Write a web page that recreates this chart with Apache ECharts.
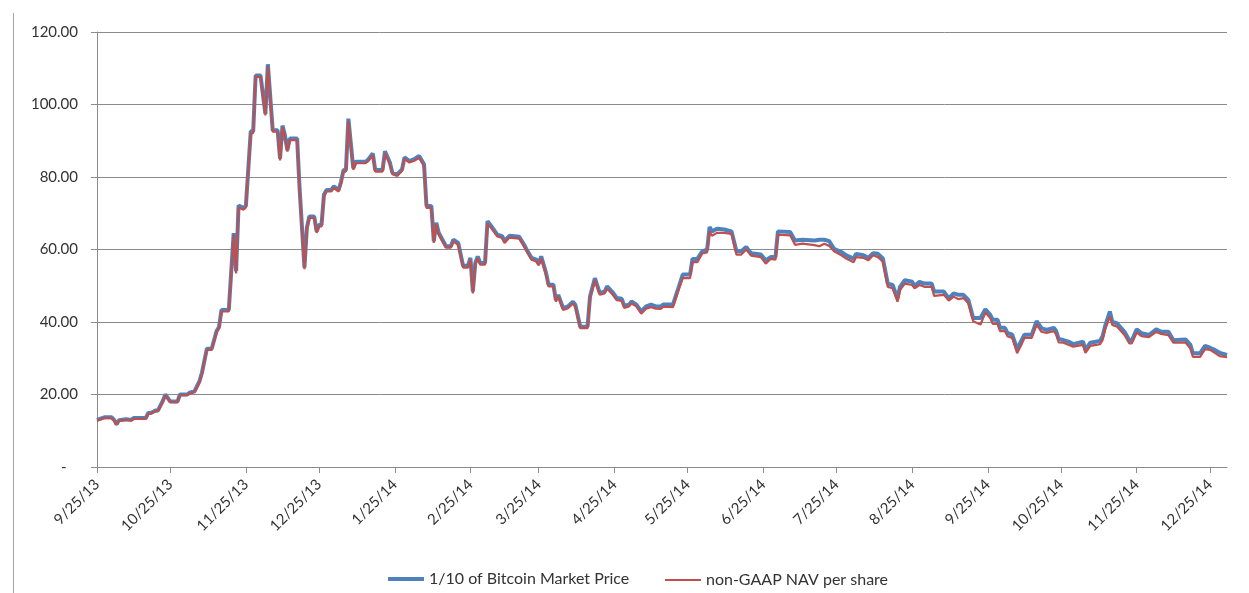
<!DOCTYPE html>
<html>
<head>
<meta charset="utf-8">
<script src="https://cdn.jsdelivr.net/npm/echarts@6/dist/echarts.min.js"></script>
<style>
  html, body { margin: 0; padding: 0; background: #ffffff; }
  #chart { width: 1249px; height: 593px; }
</style>
</head>
<body>
<div id="chart"></div>
<script>
// Month tick labels shown on the x axis
const tickLabels = ['9/25/13','10/25/13','11/25/13','12/25/13','1/25/14','2/25/14','3/25/14','4/25/14','5/25/14','6/25/14','7/25/14','8/25/14','9/25/14','10/25/14','11/25/14','12/25/14'];

// Dates at which the line changes direction
const pointDates = [
  '9/25/13','9/28/13','10/1/13','10/2/13','10/3/13','10/4/13','10/7/13','10/9/13','10/10/13','10/15/13','10/16/13','10/17/13','10/19/13','10/20/13','10/22/13','10/23/13','10/25/13','10/28/13','10/29/13',
  '11/1/13','11/2/13','11/4/13','11/6/13','11/7/13','11/9/13','11/11/13','11/13/13','11/14/13','11/15/13','11/18/13','11/20/13','11/21/13','11/22/13','11/24/13','11/25/13','11/27/13','11/28/13','11/29/13',
  '12/1/13','12/3/13','12/4/13','12/6/13','12/8/13','12/9/13','12/10/13','12/11/13','12/12/13','12/13/13','12/16/13','12/17/13','12/19/13','12/20/13','12/21/13','12/23/13','12/24/13','12/25/13','12/26/13','12/27/13','12/28/13','12/30/13','12/31/13',
  '1/2/14','1/3/14','1/4/14','1/5/14','1/6/14','1/8/14','1/9/14','1/13/14','1/14/14','1/16/14','1/17/14','1/20/14','1/21/14','1/23/14','1/24/14','1/26/14','1/28/14','1/29/14','1/31/14',
  '2/2/14','2/4/14','2/6/14','2/7/14','2/9/14','2/10/14','2/11/14','2/12/14','2/15/14','2/17/14','2/18/14','2/20/14','2/22/14','2/24/14','2/25/14','2/26/14','2/27/14','2/28/14',
  '3/1/14','3/3/14','3/4/14','3/6/14','3/8/14','3/10/14','3/11/14','3/13/14','3/17/14','3/19/14','3/20/14','3/22/14','3/24/14','3/25/14','3/26/14','3/28/14','3/29/14','3/31/14',
  '4/1/14','4/2/14','4/4/14','4/6/14','4/8/14','4/9/14','4/11/14','4/14/14','4/15/14','4/17/14','4/19/14','4/21/14','4/22/14','4/24/14','4/25/14','4/26/14','4/28/14','4/29/14',
  '5/1/14','5/2/14','5/4/14','5/6/14','5/8/14','5/10/14','5/12/14','5/14/14','5/15/14','5/19/14','5/21/14','5/23/14','5/26/14','5/27/14','5/29/14','5/31/14',
  '6/2/14','6/3/14','6/4/14','6/6/14','6/9/14','6/12/14','6/14/14','6/16/14','6/18/14','6/20/14','6/24/14','6/26/14','6/28/14','6/30/14',
  '7/1/14','7/6/14','7/8/14','7/11/14','7/16/14','7/18/14','7/20/14','7/22/14','7/24/14','7/27/14','7/29/14',
  '8/1/14','8/2/14','8/5/14','8/7/14','8/9/14','8/11/14','8/13/14','8/15/14','8/17/14','8/19/14','8/20/14','8/22/14','8/25/14','8/26/14','8/28/14','8/30/14',
  '9/2/14','9/3/14','9/7/14','9/9/14','9/11/14','9/13/14','9/15/14','9/17/14','9/19/14','9/22/14','9/24/14','9/26/14','9/27/14','9/29/14','9/30/14',
  '10/2/14','10/3/14','10/5/14','10/7/14','10/9/14','10/10/14','10/13/14','10/15/14','10/17/14','10/19/14','10/22/14','10/23/14','10/24/14','10/26/14','10/28/14','10/30/14',
  '11/3/14','11/4/14','11/6/14','11/10/14','11/11/14','11/12/14','11/14/14','11/15/14','11/17/14','11/20/14','11/22/14','11/23/14','11/25/14','11/27/14','11/30/14',
  '12/3/14','12/5/14','12/8/14','12/10/14','12/15/14','12/17/14','12/18/14','12/21/14','12/23/14','12/25/14','12/27/14','12/29/14','1/1/15'
];

// 1/10 of Bitcoin Market Price
const bitcoinTenth = [
  13.0,13.7,13.7,13.0,11.8,12.9,13.2,13.0,13.5,13.5,14.9,14.9,15.6,15.6,18.3,20.0,18.1,18.1,20.0,
  20.0,20.5,20.9,23.7,26.0,32.6,32.6,37.5,38.6,43.3,43.3,64.5,54.0,72.1,71.5,72.0,92.6,92.6,108.0,
  108.0,97.4,111.1,92.9,92.9,85.1,94.2,91.5,87.4,90.6,90.6,76.9,55.0,66.0,69.1,69.1,65.0,66.8,66.8,75.1,76.4,76.4,77.4,
  76.4,78.7,81.9,81.9,96.1,82.4,84.2,84.2,84.7,86.5,81.9,81.9,87.1,84.0,81.2,80.7,82.1,85.4,84.4,
  84.9,85.8,83.5,72.0,72.0,62.3,67.4,64.6,60.9,60.9,62.7,61.8,55.5,55.5,57.7,48.4,56.3,58.1,
  56.3,56.3,67.8,66.0,64.1,63.7,62.3,63.8,63.5,61.3,60.0,57.7,57.2,56.1,58.1,53.5,50.3,50.3,
  46.1,47.5,43.8,44.3,45.6,44.7,38.7,38.7,47.0,52.1,48.0,48.4,49.8,48.4,47.5,46.6,46.4,44.5,
  44.8,45.7,44.8,42.9,44.3,44.8,44.3,44.3,44.8,44.8,48.9,53.1,53.1,57.4,57.4,59.5,
  60.0,66.2,65.0,65.7,65.5,65.0,59.5,59.5,60.7,59.0,58.6,57.0,57.9,57.9,
  65.0,64.8,62.5,62.7,62.5,62.7,62.7,62.3,60.2,59.3,58.4,
  57.5,58.8,58.4,57.7,59.0,58.8,57.5,50.6,50.2,46.5,49.7,51.5,51.1,49.9,51.1,50.6,
  50.6,48.4,48.4,46.5,47.9,47.5,47.5,46.1,41.1,41.1,43.5,42.0,40.6,40.6,38.4,
  38.4,37.0,36.5,32.5,35.2,36.5,36.5,40.2,38.3,37.8,38.4,37.5,35.4,35.0,34.6,33.9,
  34.6,32.3,34.3,34.8,36.0,38.7,42.9,40.1,39.6,37.3,34.9,34.9,38.0,36.9,36.4,
  38.0,37.3,37.3,35.0,35.2,33.7,31.4,31.4,33.4,32.9,32.3,31.5,30.9
];

// non-GAAP NAV per share
const navPerShare = [
  12.8,13.5,13.5,12.8,11.6,12.7,13.0,12.8,13.3,13.3,14.7,14.7,15.4,15.4,18.0,19.7,17.9,17.9,19.8,
  19.8,20.3,20.7,23.4,25.7,32.3,32.3,37.1,38.2,42.9,42.9,64.0,53.4,71.6,71.0,71.6,92.1,92.1,107.6,
  107.6,97.0,110.6,92.5,92.5,84.6,93.8,91.0,87.0,90.2,90.2,76.4,54.6,65.6,68.7,68.7,64.6,66.4,66.4,74.7,76.0,76.0,77.0,
  76.0,78.3,81.5,81.5,95.5,82.0,83.8,83.8,84.3,86.0,81.5,81.5,86.6,83.5,80.8,80.3,81.7,85.0,84.0,
  84.5,85.3,83.0,71.5,71.5,61.8,66.9,64.1,60.5,60.5,62.2,61.3,55.0,55.0,57.2,47.9,55.8,57.6,
  55.8,55.8,67.2,65.5,63.6,63.2,61.8,63.3,63.0,60.8,59.5,57.2,56.7,55.6,57.6,53.0,49.8,49.8,
  45.6,47.0,43.3,43.8,45.1,44.2,38.3,38.3,46.5,51.5,47.5,47.9,49.2,47.8,46.9,46.0,45.8,43.9,
  44.3,45.1,44.3,42.3,43.7,44.1,43.7,43.6,44.2,44.1,48.4,52.1,52.1,56.5,56.5,58.9,
  59.2,65.0,63.8,64.6,64.6,64.3,58.6,58.6,60.0,58.3,57.9,56.1,57.4,57.2,
  64.1,63.9,61.3,61.6,61.2,60.9,61.6,61.0,59.5,58.4,57.5,
  56.5,57.9,57.7,57.0,58.4,57.9,56.6,49.7,49.3,45.6,48.8,50.6,50.2,49.3,50.2,49.7,
  49.7,47.2,47.5,45.9,47.0,46.3,46.6,45.2,40.2,39.3,42.6,41.1,39.5,39.5,37.5,
  37.5,36.1,35.6,31.4,34.1,35.6,35.6,39.3,37.3,37.0,37.5,36.6,34.4,34.3,33.7,33.2,
  33.7,31.5,33.4,33.9,35.0,37.8,41.5,39.2,38.7,36.4,34.1,34.1,37.1,36.1,35.8,
  37.3,36.7,36.4,34.3,34.3,32.7,30.4,30.4,32.5,32.3,31.5,30.6,30.3
];

const seriesNames = ['1/10 of Bitcoin Market Price', 'non-GAAP NAV per share'];
const seriesColors = ['#4F81BD', '#C0504D'];

// Daily category axis: 9/25/13 .. 1/1/15
const categories = [];
(function () {
  let t = Date.UTC(2013, 8, 25);
  const end = Date.UTC(2015, 0, 1);
  while (t <= end) {
    const d = new Date(t);
    categories.push((d.getUTCMonth() + 1) + '/' + d.getUTCDate() + '/' + String(d.getUTCFullYear()).slice(2));
    t += 86400000;
  }
})();

const FONT = 'Lato, "Open Sans", sans-serif';
const TEXT = '#333333';
const AXIS = '#8a8a8a';

const showTick = function (idx, value) { return tickLabels.indexOf(value) !== -1; };

const legendText = { fontFamily: FONT, fontSize: 16, color: TEXT };

const chart = echarts.init(document.getElementById('chart'), null, { renderer: 'canvas' });
chart.setOption({
  animation: false,
  backgroundColor: '#ffffff',
  textStyle: { fontFamily: FONT },
  grid: { left: 97, right: 22, top: 32, bottom: 126, containLabel: false },
  graphic: [{
    type: 'line', silent: true,
    shape: { x1: 13.5, y1: 13, x2: 13.5, y2: 593 },
    style: { stroke: '#a6a6a6', lineWidth: 1 }
  }],
  legend: [
    {
      left: 388, top: 571, padding: 0,
      icon: 'rect', itemWidth: 36, itemHeight: 4,
      textStyle: legendText,
      data: [seriesNames[0]]
    },
    {
      left: 665, top: 572, padding: 0,
      icon: 'rect', itemWidth: 36, itemHeight: 2,
      textStyle: legendText,
      data: [seriesNames[1]]
    }
  ],
  xAxis: {
    type: 'category',
    data: categories,
    boundaryGap: false,
    axisLine: { show: true, lineStyle: { color: AXIS, width: 1 } },
    axisTick: { show: true, interval: showTick, length: 6, lineStyle: { color: AXIS } },
    axisLabel: {
      interval: showTick, rotate: 45, margin: 15,
      fontFamily: FONT, fontSize: 15, color: TEXT
    },
    splitLine: { show: false }
  },
  yAxis: {
    type: 'value',
    min: 0, max: 120, interval: 20,
    axisLine: { show: true, lineStyle: { color: AXIS, width: 1 } },
    axisTick: { show: true, length: 6, lineStyle: { color: AXIS } },
    axisLabel: {
      margin: 19, fontFamily: FONT, fontSize: 15, color: TEXT,
      formatter: function (v) { return v === 0 ? '-   ' : v.toFixed(2); }
    },
    splitLine: { show: true, lineStyle: { color: AXIS, width: 1 } }
  },
  series: [
    {
      name: seriesNames[0], type: 'line', symbol: 'none', showSymbol: false,
      lineStyle: { color: seriesColors[0], width: 4 }, itemStyle: { color: seriesColors[0] },
      data: pointDates.map(function (d, i) { return [d, bitcoinTenth[i]]; }),
      z: 2
    },
    {
      name: seriesNames[1], type: 'line', symbol: 'none', showSymbol: false,
      lineStyle: { color: seriesColors[1], width: 2.2 }, itemStyle: { color: seriesColors[1] },
      data: pointDates.map(function (d, i) { return [d, navPerShare[i]]; }),
      z: 3
    }
  ]
});
</script>
</body>
</html>
